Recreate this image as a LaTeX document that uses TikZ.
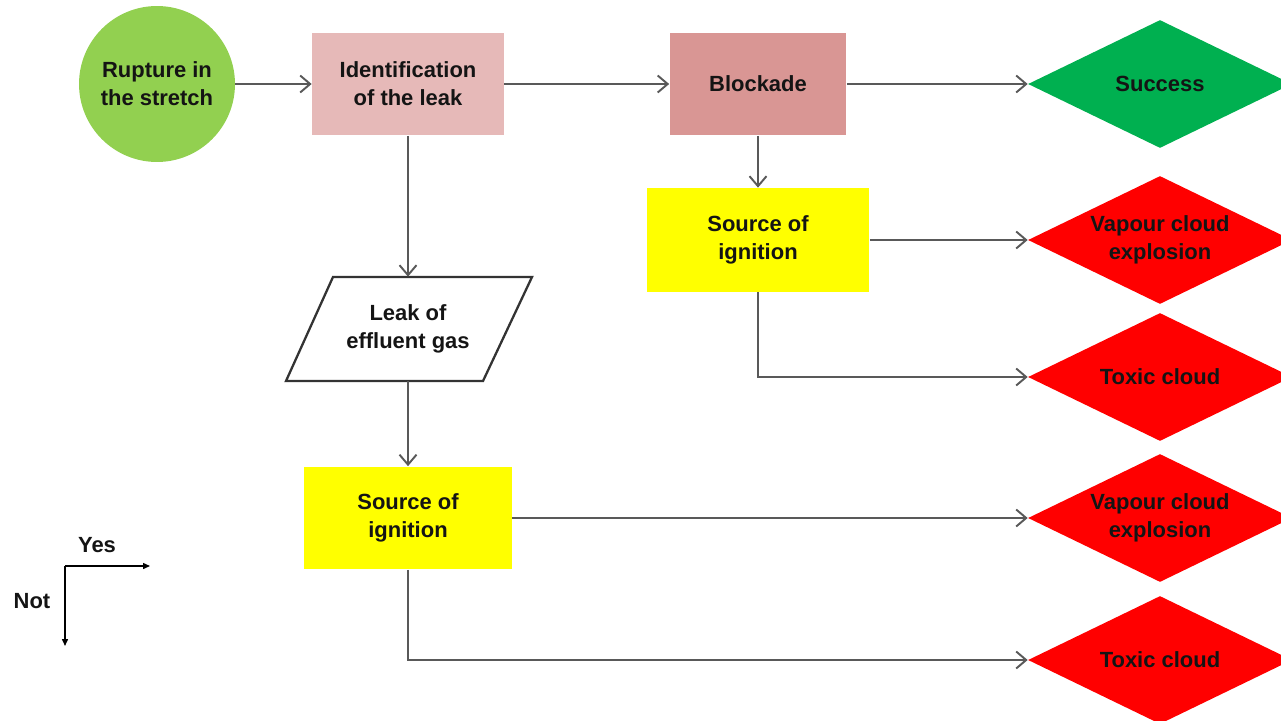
\documentclass[tikz,border=0pt]{standalone}
\usepackage{fontspec}
\setmainfont{Liberation Sans}
\usetikzlibrary{arrows.meta,shapes.geometric}
\definecolor{rupgreen}{HTML}{92D050}
\definecolor{idpink}{HTML}{E6B9B8}
\definecolor{blockpink}{HTML}{D99694}
\definecolor{succgreen}{HTML}{00B050}
\definecolor{badred}{HTML}{FF0000}
\definecolor{ignyellow}{HTML}{FFFF00}
\definecolor{conngray}{HTML}{595959}
\definecolor{txtdark}{HTML}{141414}
\begin{document}
\begin{tikzpicture}[x=0.02cm,y=-0.02cm,
  txt/.style={font=\bfseries\fontsize{12.5}{16}\selectfont, text=txtdark, align=center},
  boxnode/.style={txt, rectangle, inner sep=0pt},
  dianode/.style={diamond, inner sep=0pt, minimum width=5.28cm, minimum height=2.56cm},
  conn/.style={draw=conngray, line width=1.1pt, -{Straight Barb[length=0.2cm,width=0.34cm,line width=1.1pt]}},
  legarrow/.style={draw=black, line width=0.8pt, -{Triangle[length=0.14cm,width=0.12cm]}}
]
\useasboundingbox (0,0) rectangle (1281,720);

% nodes
\node[txt, circle, fill=rupgreen, minimum size=3.12cm, inner sep=0pt] (rup) at (157,84) {Rupture in\\the stretch};
\node[boxnode, fill=idpink, minimum width=3.84cm, minimum height=2.06cm] (ident) at (408,84) {Identification\\of the leak};
\node[boxnode, fill=blockpink, minimum width=3.54cm, minimum height=2.06cm] (block) at (758,84) {Blockade};
\node[dianode, fill=succgreen] (succ) at (1160,84) {};
\node[txt] (succt) at (succ) {Success};

\node[boxnode, fill=ignyellow, minimum width=4.46cm, minimum height=2.08cm] (ign1) at (758,240) {Source of\\ignition};
\node[dianode, fill=badred] (vce1) at (1160,240) {};
\node[txt] (vce1t) at (vce1) {Vapour cloud\\explosion};
\node[dianode, fill=badred] (tox1) at (1160,377) {};
\node[txt] (tox1t) at (tox1) {Toxic cloud};

% parallelogram
\node[boxnode, minimum width=3.0cm, minimum height=2.08cm] (leak) at (408,329) {Leak of\\effluent gas};
\draw[draw=black!80, line width=1.3pt] (333,277) -- (532,277) -- (483,381) -- (286,381) -- cycle;

\node[boxnode, fill=ignyellow, minimum width=4.16cm, minimum height=2.06cm] (ign2) at (408,518) {Source of\\ignition};
\node[dianode, fill=badred] (vce2) at (1160,518) {};
\node[txt] (vce2t) at (vce2) {Vapour cloud\\explosion};
\node[dianode, fill=badred] (tox2) at (1160,660) {};
\node[txt] (tox2t) at (tox2) {Toxic cloud};

% connectors
\draw[conn] (rup) -- (ident);
\draw[conn] (ident) -- (block);
\draw[conn] (block) -- (succ);
\draw[conn] (block) -- (ign1);
\draw[conn] (ign1) -- (vce1);
\draw[conn] (ign1.south) |- (tox1.west);
\draw[conn] (ident) -- (leak);
\draw[conn] (leak) -- (ign2);
\draw[conn] (ign2) -- (vce2);
\draw[conn] (ign2.south) |- (tox2.west);

% legend
\coordinate (legc) at (65,566);
\coordinate (legy) at (150,566);
\coordinate (legn) at (65,646);
\draw[legarrow] (legc) -- (legy);
\draw[legarrow] (legc) -- (legn);
\node[txt] (yes) at (97,545) {Yes};
\node[txt] (not) at (32,601) {Not};
\end{tikzpicture}
\end{document}
